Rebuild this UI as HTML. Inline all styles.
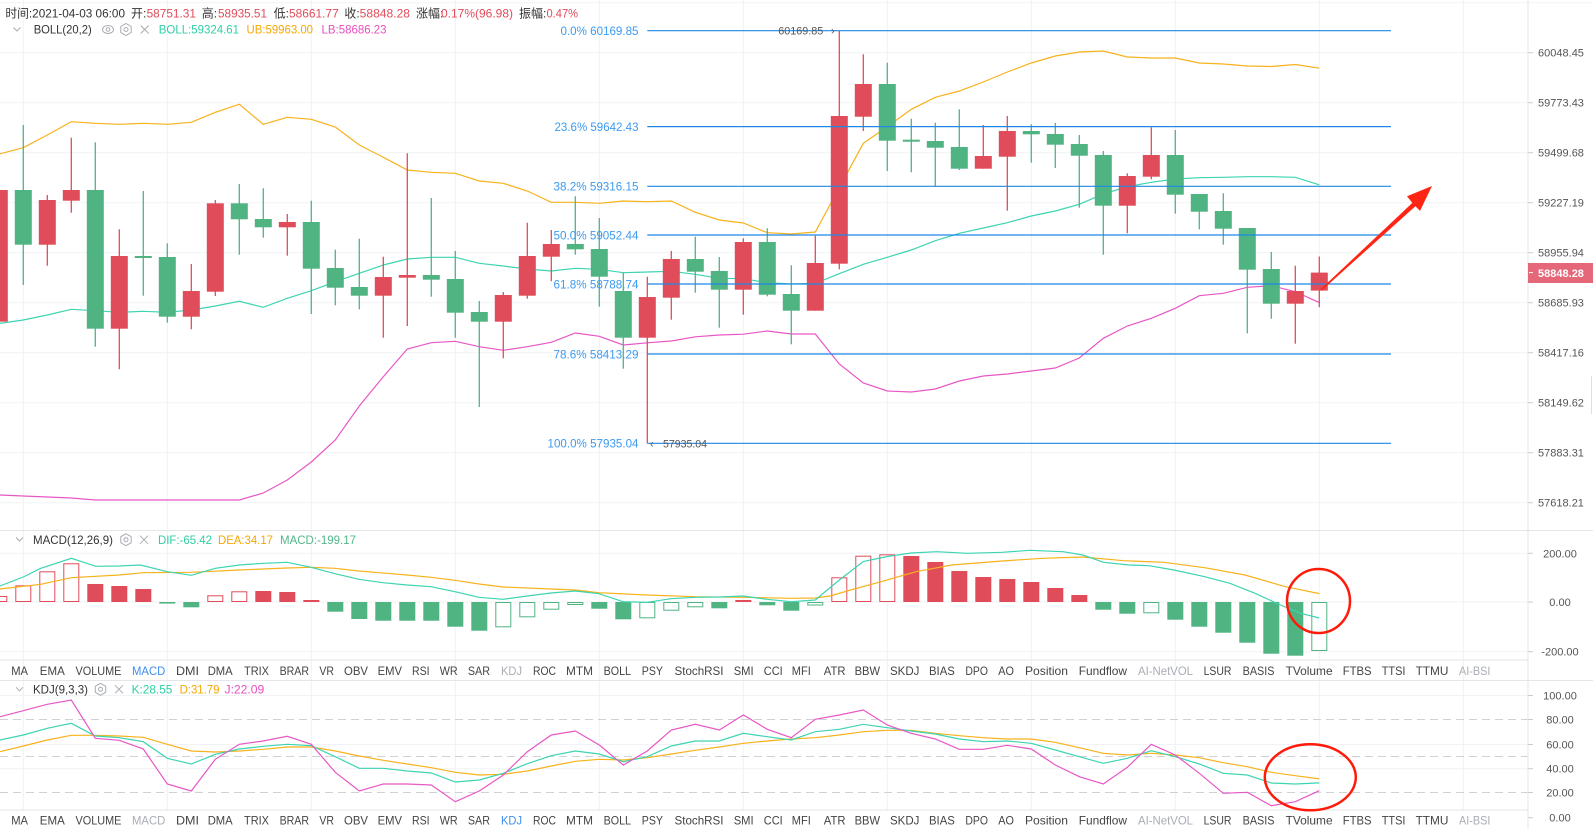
<!DOCTYPE html>
<html><head><meta charset="utf-8"><style>
html,body{margin:0;padding:0;background:#fff;}
svg{display:block;font-family:"Liberation Sans","Noto Sans CJK SC",sans-serif;}
.r{fill:#e04c5a}.g{fill:#50b482}
.wr{stroke:#e04c5a;stroke-width:1.3}.wg{stroke:#50b482;stroke-width:1.3}
.hr{fill:#fff;stroke:#e04c5a;stroke-width:1}.hg{fill:#fff;stroke:#50b482;stroke-width:1}
.grid{stroke:#f0f2f5;stroke-width:1}
.sep{stroke:#e4e6ea;stroke-width:1}
.ax{font-size:11px;fill:#555;text-anchor:middle}
.fib{stroke:#1e88e5;stroke-width:1.2}
.fl{font-size:12px;fill:#3d9af0;text-anchor:end}
.mn{font-size:12px;fill:#444}
.act{fill:#3d8ef0}.dis{fill:#a9adb5}
.lg{font-size:12px}
.ic{fill:none;stroke:#a8acb3;stroke-width:1}
</style></head><body>
<svg width="1593" height="828" viewBox="0 0 1593 828" xmlns="http://www.w3.org/2000/svg">
<defs>
<clipPath id="cm"><rect x="0" y="0" width="1528" height="530"/></clipPath>
<clipPath id="cd"><rect x="0" y="531" width="1528" height="129"/></clipPath>
<clipPath id="ck"><rect x="0" y="681" width="1528" height="129"/></clipPath>
</defs>
<rect width="1593" height="828" fill="#fff"/>

<!-- vertical grid -->
<g class="grid">
<line x1="23.3" y1="0" x2="23.3" y2="810"/><line x1="167.3" y1="0" x2="167.3" y2="810"/><line x1="311.3" y1="0" x2="311.3" y2="810"/><line x1="455.3" y1="0" x2="455.3" y2="810"/><line x1="599.3" y1="0" x2="599.3" y2="810"/><line x1="743.3" y1="0" x2="743.3" y2="810"/><line x1="887.3" y1="0" x2="887.3" y2="810"/><line x1="1031.3" y1="0" x2="1031.3" y2="810"/><line x1="1175.3" y1="0" x2="1175.3" y2="810"/><line x1="1319.3" y1="0" x2="1319.3" y2="810"/><line x1="1463.3" y1="0" x2="1463.3" y2="810"/>
<!-- main horizontal -->
<line x1="0" y1="2.7" x2="1593" y2="2.7"/>
<line x1="0" y1="52.7" x2="1528" y2="52.7"/><line x1="0" y1="102.7" x2="1528" y2="102.7"/><line x1="0" y1="152.7" x2="1528" y2="152.7"/><line x1="0" y1="202.7" x2="1528" y2="202.7"/><line x1="0" y1="252.7" x2="1528" y2="252.7"/><line x1="0" y1="302.7" x2="1528" y2="302.7"/><line x1="0" y1="352.7" x2="1528" y2="352.7"/><line x1="0" y1="402.7" x2="1528" y2="402.7"/><line x1="0" y1="452.7" x2="1528" y2="452.7"/><line x1="0" y1="502.7" x2="1528" y2="502.7"/>
<!-- macd horizontal -->
<line x1="0" y1="553.3" x2="1528" y2="553.3"/><line x1="0" y1="602" x2="1528" y2="602"/><line x1="0" y1="651.7" x2="1528" y2="651.7"/>
<!-- kdj horizontal solid -->
<line x1="0" y1="695.5" x2="1528" y2="695.5"/><line x1="0" y1="744.5" x2="1528" y2="744.5"/><line x1="0" y1="768.7" x2="1528" y2="768.7"/>
</g>
<g stroke="#cfd1d5" stroke-width="1" stroke-dasharray="8,5">
<line x1="0" y1="719.5" x2="1528" y2="719.5"/><line x1="0" y1="756.5" x2="1528" y2="756.5"/><line x1="0" y1="792.5" x2="1528" y2="792.5"/>
</g>

<!-- separators -->
<g class="sep">
<line x1="0" y1="530.5" x2="1593" y2="530.5"/>
<line x1="0" y1="660" x2="1528" y2="660"/>
<line x1="0" y1="680.5" x2="1593" y2="680.5"/>
<line x1="0" y1="810" x2="1528" y2="810"/>
<line x1="1528" y1="0" x2="1528" y2="828"/>
</g>

<!-- ===== MAIN CHART ===== -->
<g clip-path="url(#cm)">
<!-- Bollinger -->
<polyline fill="none" stroke="#f7b21c" stroke-width="1.2" points="-0.7,154 23.3,147.7 47.3,135 71.3,121.7 95.3,123.3 119.3,124.3 143.3,123.3 167.3,124.3 191.3,122.3 215.3,112.3 239.3,104.3 263.3,124.3 287.3,117.3 311.3,119.3 335.3,127 359.3,145 383.3,157.3 407.3,170 431.3,172.3 455.3,173.3 479.3,181 503.3,183.3 527.3,191 551.3,202.3 575.3,202.3 599.3,203.3 623.3,201 647.3,201.7 671.3,201 695.3,212.3 719.3,220 743.3,223 767.3,232.7 791.3,234 815.3,232 839.3,187.7 863.3,143.3 887.3,126.7 911.3,109.3 935.3,97.3 959.3,91 983.3,82 1007.3,72 1031.3,63 1055.3,56 1079.3,52 1103.3,51 1127.3,57 1151.3,58 1175.3,58 1199.3,63 1223.3,64 1247.3,66 1271.3,66.5 1295.3,64.5 1319.3,68.2"/>
<polyline fill="none" stroke="#3dd4b2" stroke-width="1.2" points="-0.7,323.5 23.3,320 47.3,315 71.3,309.3 95.3,310.7 119.3,312.3 143.3,311.3 167.3,312.3 191.3,310 215.3,306 239.3,301.3 263.3,307.3 287.3,298.3 311.3,290.7 335.3,281.7 359.3,273.3 383.3,265 407.3,259 431.3,257.3 455.3,257.3 479.3,263.3 503.3,266 527.3,269 551.3,271 575.3,268.3 599.3,269.3 623.3,272.7 647.3,272 671.3,271.3 695.3,274.3 719.3,278.3 743.3,278.7 767.3,282.7 791.3,284 815.3,283.3 839.3,273.7 863.3,264.3 887.3,257.3 911.3,250 935.3,240.7 959.3,233.3 983.3,228 1007.3,222.7 1031.3,216 1055.3,211 1079.3,204.3 1103.3,194 1127.3,186.7 1151.3,182.3 1175.3,179 1199.3,177.7 1223.3,177.3 1247.3,176.7 1271.3,176.7 1295.3,177.3 1319.3,184.8"/>
<polyline fill="none" stroke="#e857c6" stroke-width="1.2" points="-0.7,495 23.3,496 47.3,497 71.3,498 95.3,500 119.3,500 143.3,500 167.3,500 191.3,500 215.3,500 239.3,500 263.3,493 287.3,480 311.3,462 335.3,440 359.3,406 383.3,376.7 407.3,349 431.3,342.7 455.3,341.3 479.3,346.7 503.3,350.3 527.3,346.7 551.3,342.3 575.3,333 599.3,336.3 623.3,345 647.3,342.8 671.3,341 695.3,336.8 719.3,335 743.3,334.2 767.3,331 791.3,334 815.3,334 839.3,364 863.3,383 887.3,391 911.3,392 935.3,389 959.3,381 983.3,376 1007.3,374 1031.3,371 1055.3,368 1079.3,358 1103.3,338.3 1127.3,326 1151.3,318.3 1175.3,308.3 1199.3,295.7 1223.3,293.3 1247.3,287.3 1271.3,285.7 1295.3,291.7 1319.3,302.6"/>

<!-- wicks -->
<g class="wg">
<line x1="23.3" y1="125" x2="23.3" y2="285"/><line x1="95.3" y1="142.3" x2="95.3" y2="346.7"/><line x1="143.3" y1="191" x2="143.3" y2="295.7"/><line x1="167.3" y1="243.3" x2="167.3" y2="322.7"/><line x1="239.3" y1="184" x2="239.3" y2="254.7"/><line x1="263.3" y1="188.3" x2="263.3" y2="237.7"/><line x1="311.3" y1="200.7" x2="311.3" y2="314"/><line x1="335.3" y1="249.7" x2="335.3" y2="305.3"/><line x1="359.3" y1="238.7" x2="359.3" y2="309.3"/><line x1="431.3" y1="198" x2="431.3" y2="296.7"/><line x1="455.3" y1="251" x2="455.3" y2="337.7"/><line x1="479.3" y1="301" x2="479.3" y2="407"/><line x1="575.3" y1="196.3" x2="575.3" y2="254.7"/><line x1="599.3" y1="218" x2="599.3" y2="306.7"/><line x1="623.3" y1="272.7" x2="623.3" y2="368.7"/><line x1="695.3" y1="236.7" x2="695.3" y2="292.7"/><line x1="719.3" y1="257" x2="719.3" y2="327.7"/><line x1="767.3" y1="228.3" x2="767.3" y2="296.3"/><line x1="791.3" y1="265.3" x2="791.3" y2="344.3"/><line x1="887.3" y1="62.7" x2="887.3" y2="171"/><line x1="911.3" y1="118.7" x2="911.3" y2="172.3"/><line x1="935.3" y1="122.7" x2="935.3" y2="186.7"/><line x1="959.3" y1="109.3" x2="959.3" y2="170"/><line x1="1031.3" y1="124.3" x2="1031.3" y2="162.7"/><line x1="1055.3" y1="123" x2="1055.3" y2="168"/><line x1="1079.3" y1="135" x2="1079.3" y2="207.7"/><line x1="1103.3" y1="151" x2="1103.3" y2="254.7"/><line x1="1175.3" y1="130" x2="1175.3" y2="213.7"/><line x1="1199.3" y1="194" x2="1199.3" y2="229.3"/><line x1="1223.3" y1="193.3" x2="1223.3" y2="244.7"/><line x1="1247.3" y1="228" x2="1247.3" y2="333.3"/><line x1="1271.3" y1="252" x2="1271.3" y2="318.7"/>
</g>
<g class="wr">
<line x1="47.3" y1="195" x2="47.3" y2="265.7"/><line x1="71.3" y1="137.7" x2="71.3" y2="212.7"/><line x1="119.3" y1="229.3" x2="119.3" y2="369.3"/><line x1="191.3" y1="264" x2="191.3" y2="329.3"/><line x1="215.3" y1="200" x2="215.3" y2="296"/><line x1="287.3" y1="214" x2="287.3" y2="255.7"/><line x1="383.3" y1="256.7" x2="383.3" y2="337.7"/><line x1="407.3" y1="153.3" x2="407.3" y2="326"/><line x1="503.3" y1="292" x2="503.3" y2="358.3"/><line x1="527.3" y1="222.7" x2="527.3" y2="298.7"/><line x1="551.3" y1="230" x2="551.3" y2="281.3"/><line x1="647.3" y1="276.7" x2="647.3" y2="443.3"/><line x1="671.3" y1="251" x2="671.3" y2="319.7"/><line x1="743.3" y1="238.3" x2="743.3" y2="314.7"/><line x1="815.3" y1="235.7" x2="815.3" y2="310.7"/><line x1="839.3" y1="31" x2="839.3" y2="269.3"/><line x1="863.3" y1="54.3" x2="863.3" y2="131"/><line x1="983.3" y1="125" x2="983.3" y2="168.7"/><line x1="1007.3" y1="116" x2="1007.3" y2="210.7"/><line x1="1127.3" y1="173.3" x2="1127.3" y2="233.3"/><line x1="1151.3" y1="127.3" x2="1151.3" y2="179.3"/><line x1="1295.3" y1="265.7" x2="1295.3" y2="343.7"/><line x1="1319.3" y1="256.5" x2="1319.3" y2="307.2"/>
</g>
<!-- bodies -->
<g class="g">
<rect x="14.8" y="190" width="17" height="54.7"/><rect x="86.8" y="190" width="17" height="138.7"/><rect x="134.8" y="256" width="17" height="2"/><rect x="158.8" y="257" width="17" height="59.7"/><rect x="230.8" y="203.3" width="17" height="16"/><rect x="254.8" y="219" width="17" height="8.3"/><rect x="302.8" y="222" width="17" height="46.7"/><rect x="326.8" y="268" width="17" height="19.7"/><rect x="350.8" y="287" width="17" height="8.7"/><rect x="422.8" y="275" width="17" height="4.7"/><rect x="446.8" y="279" width="17" height="33.7"/><rect x="470.8" y="312" width="17" height="9.7"/><rect x="566.8" y="244" width="17" height="5.3"/><rect x="590.8" y="249" width="17" height="27.7"/><rect x="614.8" y="291" width="17" height="46.7"/><rect x="686.8" y="259" width="17" height="12.7"/><rect x="710.8" y="271" width="17" height="18.7"/><rect x="758.8" y="242" width="17" height="52.7"/><rect x="782.8" y="294" width="17" height="16.7"/><rect x="878.8" y="84" width="17" height="56.7"/><rect x="902.8" y="139.7" width="17" height="2"/><rect x="926.8" y="141" width="17" height="6.7"/><rect x="950.8" y="147" width="17" height="21.7"/><rect x="1022.8" y="131" width="17" height="3.3"/><rect x="1046.8" y="134" width="17" height="10.7"/><rect x="1070.8" y="144" width="17" height="11.7"/><rect x="1094.8" y="155" width="17" height="50.7"/><rect x="1166.8" y="155" width="17" height="39.7"/><rect x="1190.8" y="194" width="17" height="17.7"/><rect x="1214.8" y="211" width="17" height="17.7"/><rect x="1238.8" y="228" width="17" height="41.7"/><rect x="1262.8" y="269" width="17" height="34.7"/>
</g>
<g class="r">
<rect x="-9.2" y="190" width="17" height="131.7"/><rect x="38.8" y="200" width="17" height="44.7"/><rect x="62.8" y="190" width="17" height="10.7"/><rect x="110.8" y="256" width="17" height="72.7"/><rect x="182.8" y="291" width="17" height="25.7"/><rect x="206.8" y="203.3" width="17" height="88.4"/><rect x="278.8" y="222" width="17" height="5.3"/><rect x="374.8" y="277" width="17" height="18.7"/><rect x="398.8" y="275" width="17" height="2.7"/><rect x="494.8" y="295" width="17" height="26.7"/><rect x="518.8" y="256" width="17" height="39.7"/><rect x="542.8" y="244" width="17" height="12.7"/><rect x="638.8" y="297" width="17" height="40.7"/><rect x="662.8" y="259" width="17" height="38.7"/><rect x="734.8" y="242" width="17" height="47.7"/><rect x="806.8" y="263" width="17" height="47.7"/><rect x="830.8" y="116" width="17" height="147.7"/><rect x="854.8" y="84" width="17" height="32.7"/><rect x="974.8" y="156" width="17" height="12.7"/><rect x="998.8" y="131" width="17" height="25.7"/><rect x="1118.8" y="176" width="17" height="29.7"/><rect x="1142.8" y="155" width="17" height="21.7"/><rect x="1286.8" y="291" width="17" height="12.7"/><rect x="1310.8" y="272.6" width="17" height="18"/>
</g>

<!-- Fibonacci -->
<g class="fib">
<line x1="647.3" y1="30.7" x2="1391" y2="30.7"/>
<line x1="647.3" y1="126.6" x2="1391" y2="126.6"/>
<line x1="647.3" y1="186.3" x2="1391" y2="186.3"/>
<line x1="647.3" y1="235" x2="1391" y2="235"/>
<line x1="647.3" y1="284" x2="1391" y2="284"/>
<line x1="647.3" y1="354" x2="1391" y2="354"/>
<line x1="647.3" y1="443.3" x2="1391" y2="443.3"/>
</g>
<g class="fl">
<text x="638.5" y="35" textLength="78" lengthAdjust="spacingAndGlyphs">0.0% 60169.85</text>
<text x="638.5" y="130.9" textLength="84" lengthAdjust="spacingAndGlyphs">23.6% 59642.43</text>
<text x="638.5" y="190.6" textLength="85" lengthAdjust="spacingAndGlyphs">38.2% 59316.15</text>
<text x="638.5" y="239.3" textLength="85" lengthAdjust="spacingAndGlyphs">50.0% 59052.44</text>
<text x="638.5" y="288.3" textLength="85" lengthAdjust="spacingAndGlyphs">61.8% 58788.74</text>
<text x="638.5" y="358.3" textLength="85" lengthAdjust="spacingAndGlyphs">78.6% 58413.29</text>
<text x="638.5" y="447.6" textLength="91" lengthAdjust="spacingAndGlyphs">100.0% 57935.04</text>
</g>
<text x="778.3" y="34.5" font-size="11" fill="#555" textLength="45" lengthAdjust="spacingAndGlyphs">60169.85</text>
<text x="831" y="34.5" font-size="11" fill="#555">›</text>
<text x="650" y="447.5" font-size="11" fill="#555">‹</text>
<text x="663" y="447.5" font-size="11" fill="#555" textLength="44" lengthAdjust="spacingAndGlyphs">57935.04</text>

<!-- red arrow -->
<polygon fill="#ff2414" points="1321.5,290.6 1415.4,206.2 1420.0,210.9 1432,186 1407.0,196.3 1412.3,202.9 1320.5,289.4"/>
</g>

<!-- header -->
<g class="lg">
<text x="5.4" y="17.6" fill="#333" textLength="119.6" lengthAdjust="spacingAndGlyphs">时间:2021-04-03 06:00</text>
<text x="131" y="17.6" fill="#333">开:</text><text x="146.6" y="17.6" fill="#e04c5a" textLength="49.4" lengthAdjust="spacingAndGlyphs">58751.31</text>
<text x="201.7" y="17.6" fill="#333">高:</text><text x="218" y="17.6" fill="#e04c5a" textLength="49" lengthAdjust="spacingAndGlyphs">58935.51</text>
<text x="273.6" y="17.6" fill="#333">低:</text><text x="289" y="17.6" fill="#e04c5a" textLength="49.7" lengthAdjust="spacingAndGlyphs">58661.77</text>
<text x="344.4" y="17.6" fill="#333">收:</text><text x="359.7" y="17.6" fill="#e04c5a" textLength="50.3" lengthAdjust="spacingAndGlyphs">58848.28</text>
<text x="416" y="17.6" fill="#333">涨幅:</text><text x="441" y="17.6" fill="#e04c5a" textLength="72" lengthAdjust="spacingAndGlyphs">0.17%(96.98)</text>
<text x="519" y="17.6" fill="#333">振幅:</text><text x="546.5" y="17.6" fill="#e04c5a" textLength="31.5" lengthAdjust="spacingAndGlyphs">0.47%</text>

<!-- BOLL legend -->
<polyline class="ic" points="13.5,27.5 17,31 20.5,27.5"/>
<text x="33.7" y="33.6" fill="#333" textLength="58.1" lengthAdjust="spacingAndGlyphs">BOLL(20,2)</text>
<ellipse class="ic" cx="108" cy="29.5" rx="5.5" ry="4"/><circle class="ic" cx="108" cy="29.5" r="1.8"/>
<polygon class="ic" points="126,23.5 131.2,26.5 131.2,32.5 126,35.5 120.8,32.5 120.8,26.5"/><circle class="ic" cx="126" cy="29.5" r="2"/>
<path class="ic" d="M140.7,25.5 L148.7,33.5 M148.7,25.5 L140.7,33.5"/>
<text x="158.8" y="33.6" fill="#2fcfa5" textLength="80.2" lengthAdjust="spacingAndGlyphs">BOLL:59324.61</text>
<text x="246.5" y="33.6" fill="#f5a800" textLength="66.5" lengthAdjust="spacingAndGlyphs">UB:59963.00</text>
<text x="321.5" y="33.6" fill="#e94fbf" textLength="65" lengthAdjust="spacingAndGlyphs">LB:58686.23</text>
</g>

<!-- main axis labels -->
<g class="ax">
<text x="1561" y="56.7">60048.45</text><text x="1561" y="106.7">59773.43</text><text x="1561" y="156.7">59499.68</text><text x="1561" y="206.7">59227.19</text><text x="1561" y="256.7">58955.94</text><text x="1561" y="306.7">58685.93</text><text x="1561" y="356.7">58417.16</text><text x="1561" y="406.7">58149.62</text><text x="1561" y="456.7">57883.31</text><text x="1561" y="506.7">57618.21</text>
</g>
<g stroke="#c8cbd0" stroke-width="1">
<line x1="1528" y1="52.7" x2="1533" y2="52.7"/><line x1="1528" y1="102.7" x2="1533" y2="102.7"/><line x1="1528" y1="152.7" x2="1533" y2="152.7"/><line x1="1528" y1="202.7" x2="1533" y2="202.7"/><line x1="1528" y1="252.7" x2="1533" y2="252.7"/><line x1="1528" y1="302.7" x2="1533" y2="302.7"/><line x1="1528" y1="352.7" x2="1533" y2="352.7"/><line x1="1528" y1="402.7" x2="1533" y2="402.7"/><line x1="1528" y1="452.7" x2="1533" y2="452.7"/><line x1="1528" y1="502.7" x2="1533" y2="502.7"/>
<line x1="1528" y1="553.3" x2="1533" y2="553.3"/><line x1="1528" y1="602" x2="1533" y2="602"/><line x1="1528" y1="651.7" x2="1533" y2="651.7"/>
<line x1="1528" y1="695.5" x2="1533" y2="695.5"/><line x1="1528" y1="719.5" x2="1533" y2="719.5"/><line x1="1528" y1="744.5" x2="1533" y2="744.5"/><line x1="1528" y1="768.7" x2="1533" y2="768.7"/><line x1="1528" y1="792.5" x2="1533" y2="792.5"/><line x1="1528" y1="817.7" x2="1533" y2="817.7"/>
</g>
<line x1="1591.5" y1="376" x2="1591.5" y2="414" stroke="#dcdfe3" stroke-width="1"/>
<!-- current price -->
<rect x="1528" y="263" width="65" height="20" fill="#e5677a"/>
<line x1="1529" y1="272.6" x2="1533" y2="272.6" stroke="#fff" stroke-width="1"/>
<text x="1561" y="276.8" font-size="11" fill="#fff" text-anchor="middle" font-weight="bold">58848.28</text>

<!-- ===== MACD ===== -->
<g class="lg">
<polyline class="ic" points="16,537.5 19.5,541 23,537.5"/>
<text x="33" y="544" fill="#333" textLength="80" lengthAdjust="spacingAndGlyphs">MACD(12,26,9)</text>
<polygon class="ic" points="126,533.7 131.2,536.7 131.2,542.7 126,545.7 120.8,542.7 120.8,536.7"/><circle class="ic" cx="126" cy="539.7" r="2"/>
<path class="ic" d="M140,535.7 L148,543.7 M148,535.7 L140,543.7"/>
<text x="158" y="544" fill="#2fcfa5" textLength="54" lengthAdjust="spacingAndGlyphs">DIF:-65.42</text>
<text x="218" y="544" fill="#f5a800" textLength="55" lengthAdjust="spacingAndGlyphs">DEA:34.17</text>
<text x="280" y="544" fill="#52b788" textLength="76" lengthAdjust="spacingAndGlyphs">MACD:-199.17</text>
</g>
<g clip-path="url(#cd)">
<g class="hr">
<rect x="-8.2" y="596.5" width="15" height="5"/><rect x="15.8" y="585.8" width="15" height="15.7"/><rect x="39.8" y="571.8" width="15" height="29.7"/><rect x="63.8" y="563.8" width="15" height="37.7"/><rect x="207.8" y="595.8" width="15" height="5.7"/><rect x="231.8" y="591.8" width="15" height="9.7"/><rect x="831.8" y="577.8" width="15" height="23.7"/><rect x="855.8" y="556.2" width="15" height="45.3"/><rect x="879.8" y="554.8" width="15" height="46.7"/>
</g>
<g class="r">
<rect x="87.3" y="584" width="16" height="18"/><rect x="111.3" y="586" width="16" height="16"/><rect x="135.3" y="589" width="16" height="13"/><rect x="255.3" y="591" width="16" height="11"/><rect x="279.3" y="592" width="16" height="10"/><rect x="303.3" y="600" width="16" height="2"/><rect x="735.3" y="600" width="16" height="2"/><rect x="903.3" y="556" width="16" height="46"/><rect x="927.3" y="562" width="16" height="40"/><rect x="951.3" y="571" width="16" height="31"/><rect x="975.3" y="577" width="16" height="25"/><rect x="999.3" y="579" width="16" height="23"/><rect x="1023.3" y="582" width="16" height="20"/><rect x="1047.3" y="588" width="16" height="14"/><rect x="1071.3" y="595" width="16" height="7"/>
</g>
<g class="g">
<rect x="159.3" y="602" width="16" height="1.6"/><rect x="183.3" y="602" width="16" height="5.3"/><rect x="327.3" y="602" width="16" height="9.7"/><rect x="351.3" y="602" width="16" height="17"/><rect x="375.3" y="602" width="16" height="18.7"/><rect x="399.3" y="602" width="16" height="18.7"/><rect x="423.3" y="602" width="16" height="18.7"/><rect x="447.3" y="602" width="16" height="24.7"/><rect x="471.3" y="602" width="16" height="28.7"/><rect x="591.3" y="602" width="16" height="6.7"/><rect x="615.3" y="602" width="16" height="17.3"/><rect x="711.3" y="602" width="16" height="6.3"/><rect x="759.3" y="602" width="16" height="3.3"/><rect x="783.3" y="602" width="16" height="8.7"/><rect x="1095.3" y="602" width="16" height="7.7"/><rect x="1119.3" y="602" width="16" height="11.7"/><rect x="1167.3" y="602" width="16" height="17.7"/><rect x="1191.3" y="602" width="16" height="24.7"/><rect x="1215.3" y="602" width="16" height="30.7"/><rect x="1239.3" y="602" width="16" height="40.7"/><rect x="1263.3" y="602" width="16" height="51.7"/><rect x="1287.3" y="602" width="16" height="53.7"/>
</g>
<g class="hg">
<rect x="495.8" y="602.5" width="15" height="24.3"/><rect x="519.8" y="602.5" width="15" height="14.3"/><rect x="543.8" y="602.5" width="15" height="6.7"/><rect x="567.8" y="602.5" width="15" height="2"/><rect x="639.8" y="602.5" width="15" height="15.3"/><rect x="663.8" y="602.5" width="15" height="7.7"/><rect x="687.8" y="602.5" width="15" height="4.3"/><rect x="807.8" y="602.5" width="15" height="2.5"/><rect x="1143.8" y="602.5" width="15" height="10.3"/><rect x="1311.8" y="602.5" width="15" height="48"/>
</g>
<polyline fill="none" stroke="#f7b21c" stroke-width="1.2" points="0,589 40.8,584.3 71.4,577.7 119,575 143,572.7 191,572.3 239,570 287,568 311,567.3 335,568.3 359,571 407,575 431,577.3 455,580.3 479,584 503,587 551,589 575,590 599,592.7 647,595 695,596.7 743,597.3 791,598.3 815,598 830,596 850.6,590 881,581.7 916,571.7 951.7,565 1002,561 1042.8,558.3 1083,557 1123.7,560.7 1164,562.3 1204.7,567.7 1245,575 1285.6,586.7 1319.3,593.6"/>
<polyline fill="none" stroke="#3dd4b2" stroke-width="1.2" points="0,586 23.3,577 40.8,568.3 71.4,558.3 95.9,566.3 119.3,566 140.3,565 167.3,571.7 191.3,575.3 215.3,568.3 239.3,565 263,563.3 287,562.3 311,567.3 335,573.7 359,579.3 383,582.7 407,585 431,586.7 455,591.7 479,597.3 503,599.3 527,596 551,593 575,591 599,593.7 623,601.7 647,602.3 671,598.7 695,597.3 719,597 743,596 767,599.3 791,601.7 815.3,600 839.3,580 863.3,561.5 887.3,556.5 911.3,553 936.6,551.7 967,553.3 1002,552.3 1030,550.3 1063,551.7 1083,555 1103.5,562.3 1129,565 1149,565.7 1174,570 1204.7,576.7 1230,583.3 1255,593.3 1280.5,605 1300.8,613.3 1319.3,618"/>
</g>
<g class="ax">
<text x="1560" y="557.3">200.00</text><text x="1560" y="606">0.00</text><text x="1560" y="655.7">-200.00</text>
</g>
<ellipse cx="1318.5" cy="601" rx="31.5" ry="32" fill="none" stroke="#ff1a0a" stroke-width="2.5"/>

<!-- menu rows -->
<g class="mn">
<text x="11.2" y="675" textLength="16.8" lengthAdjust="spacingAndGlyphs">MA</text><text x="39.8" y="675" textLength="25" lengthAdjust="spacingAndGlyphs">EMA</text><text x="75.5" y="675" textLength="45.9" lengthAdjust="spacingAndGlyphs">VOLUME</text><text x="132" y="675" textLength="33.3" lengthAdjust="spacingAndGlyphs" class="act">MACD</text><text x="176" y="675" textLength="23" lengthAdjust="spacingAndGlyphs">DMI</text><text x="207.7" y="675" textLength="25" lengthAdjust="spacingAndGlyphs">DMA</text><text x="244" y="675" textLength="25" lengthAdjust="spacingAndGlyphs">TRIX</text><text x="279.6" y="675" textLength="29.4" lengthAdjust="spacingAndGlyphs">BRAR</text><text x="319.4" y="675" textLength="14.6" lengthAdjust="spacingAndGlyphs">VR</text><text x="344" y="675" textLength="24" lengthAdjust="spacingAndGlyphs">OBV</text><text x="377.6" y="675" textLength="24.4" lengthAdjust="spacingAndGlyphs">EMV</text><text x="412" y="675" textLength="17.6" lengthAdjust="spacingAndGlyphs">RSI</text><text x="439.8" y="675" textLength="17.9" lengthAdjust="spacingAndGlyphs">WR</text><text x="467.9" y="675" textLength="22.1" lengthAdjust="spacingAndGlyphs">SAR</text><text x="501" y="675" textLength="21" lengthAdjust="spacingAndGlyphs" class="dis">KDJ</text><text x="533" y="675" textLength="23" lengthAdjust="spacingAndGlyphs">ROC</text><text x="566" y="675" textLength="27" lengthAdjust="spacingAndGlyphs">MTM</text><text x="603.6" y="675" textLength="27.4" lengthAdjust="spacingAndGlyphs">BOLL</text><text x="641.8" y="675" textLength="21.2" lengthAdjust="spacingAndGlyphs">PSY</text><text x="674.5" y="675" textLength="49" lengthAdjust="spacingAndGlyphs">StochRSI</text><text x="733.7" y="675" textLength="19.9" lengthAdjust="spacingAndGlyphs">SMI</text><text x="763.8" y="675" textLength="18.9" lengthAdjust="spacingAndGlyphs">CCI</text><text x="791.8" y="675" textLength="19" lengthAdjust="spacingAndGlyphs">MFI</text><text x="823.8" y="675" textLength="21.7" lengthAdjust="spacingAndGlyphs">ATR</text><text x="854.6" y="675" textLength="25.4" lengthAdjust="spacingAndGlyphs">BBW</text><text x="890" y="675" textLength="29.4" lengthAdjust="spacingAndGlyphs">SKDJ</text><text x="929" y="675" textLength="25.8" lengthAdjust="spacingAndGlyphs">BIAS</text><text x="965.4" y="675" textLength="22.6" lengthAdjust="spacingAndGlyphs">DPO</text><text x="998.3" y="675" textLength="15.7" lengthAdjust="spacingAndGlyphs">AO</text><text x="1025" y="675" textLength="43" lengthAdjust="spacingAndGlyphs">Position</text><text x="1078.7" y="675" textLength="48.3" lengthAdjust="spacingAndGlyphs">Fundflow</text><text x="1138" y="675" textLength="55" lengthAdjust="spacingAndGlyphs" class="dis">AI-NetVOL</text><text x="1203.6" y="675" textLength="27.9" lengthAdjust="spacingAndGlyphs">LSUR</text><text x="1242.6" y="675" textLength="31.9" lengthAdjust="spacingAndGlyphs">BASIS</text><text x="1285.6" y="675" textLength="47" lengthAdjust="spacingAndGlyphs">TVolume</text><text x="1342.7" y="675" textLength="28.9" lengthAdjust="spacingAndGlyphs">FTBS</text><text x="1381.7" y="675" textLength="23.8" lengthAdjust="spacingAndGlyphs">TTSI</text><text x="1415.6" y="675" textLength="32.8" lengthAdjust="spacingAndGlyphs">TTMU</text><text x="1459" y="675" textLength="31.4" lengthAdjust="spacingAndGlyphs" class="dis">AI-BSI</text>
</g>
<g class="mn">
<text x="11.2" y="824.6" textLength="16.8" lengthAdjust="spacingAndGlyphs">MA</text><text x="39.8" y="824.6" textLength="25" lengthAdjust="spacingAndGlyphs">EMA</text><text x="75.5" y="824.6" textLength="45.9" lengthAdjust="spacingAndGlyphs">VOLUME</text><text x="132" y="824.6" textLength="33.3" lengthAdjust="spacingAndGlyphs" class="dis">MACD</text><text x="176" y="824.6" textLength="23" lengthAdjust="spacingAndGlyphs">DMI</text><text x="207.7" y="824.6" textLength="25" lengthAdjust="spacingAndGlyphs">DMA</text><text x="244" y="824.6" textLength="25" lengthAdjust="spacingAndGlyphs">TRIX</text><text x="279.6" y="824.6" textLength="29.4" lengthAdjust="spacingAndGlyphs">BRAR</text><text x="319.4" y="824.6" textLength="14.6" lengthAdjust="spacingAndGlyphs">VR</text><text x="344" y="824.6" textLength="24" lengthAdjust="spacingAndGlyphs">OBV</text><text x="377.6" y="824.6" textLength="24.4" lengthAdjust="spacingAndGlyphs">EMV</text><text x="412" y="824.6" textLength="17.6" lengthAdjust="spacingAndGlyphs">RSI</text><text x="439.8" y="824.6" textLength="17.9" lengthAdjust="spacingAndGlyphs">WR</text><text x="467.9" y="824.6" textLength="22.1" lengthAdjust="spacingAndGlyphs">SAR</text><text x="501" y="824.6" textLength="21" lengthAdjust="spacingAndGlyphs" class="act">KDJ</text><text x="533" y="824.6" textLength="23" lengthAdjust="spacingAndGlyphs">ROC</text><text x="566" y="824.6" textLength="27" lengthAdjust="spacingAndGlyphs">MTM</text><text x="603.6" y="824.6" textLength="27.4" lengthAdjust="spacingAndGlyphs">BOLL</text><text x="641.8" y="824.6" textLength="21.2" lengthAdjust="spacingAndGlyphs">PSY</text><text x="674.5" y="824.6" textLength="49" lengthAdjust="spacingAndGlyphs">StochRSI</text><text x="733.7" y="824.6" textLength="19.9" lengthAdjust="spacingAndGlyphs">SMI</text><text x="763.8" y="824.6" textLength="18.9" lengthAdjust="spacingAndGlyphs">CCI</text><text x="791.8" y="824.6" textLength="19" lengthAdjust="spacingAndGlyphs">MFI</text><text x="823.8" y="824.6" textLength="21.7" lengthAdjust="spacingAndGlyphs">ATR</text><text x="854.6" y="824.6" textLength="25.4" lengthAdjust="spacingAndGlyphs">BBW</text><text x="890" y="824.6" textLength="29.4" lengthAdjust="spacingAndGlyphs">SKDJ</text><text x="929" y="824.6" textLength="25.8" lengthAdjust="spacingAndGlyphs">BIAS</text><text x="965.4" y="824.6" textLength="22.6" lengthAdjust="spacingAndGlyphs">DPO</text><text x="998.3" y="824.6" textLength="15.7" lengthAdjust="spacingAndGlyphs">AO</text><text x="1025" y="824.6" textLength="43" lengthAdjust="spacingAndGlyphs">Position</text><text x="1078.7" y="824.6" textLength="48.3" lengthAdjust="spacingAndGlyphs">Fundflow</text><text x="1138" y="824.6" textLength="55" lengthAdjust="spacingAndGlyphs" class="dis">AI-NetVOL</text><text x="1203.6" y="824.6" textLength="27.9" lengthAdjust="spacingAndGlyphs">LSUR</text><text x="1242.6" y="824.6" textLength="31.9" lengthAdjust="spacingAndGlyphs">BASIS</text><text x="1285.6" y="824.6" textLength="47" lengthAdjust="spacingAndGlyphs">TVolume</text><text x="1342.7" y="824.6" textLength="28.9" lengthAdjust="spacingAndGlyphs">FTBS</text><text x="1381.7" y="824.6" textLength="23.8" lengthAdjust="spacingAndGlyphs">TTSI</text><text x="1415.6" y="824.6" textLength="32.8" lengthAdjust="spacingAndGlyphs">TTMU</text><text x="1459" y="824.6" textLength="31.4" lengthAdjust="spacingAndGlyphs" class="dis">AI-BSI</text>
</g>

<!-- ===== KDJ ===== -->
<g class="lg">
<polyline class="ic" points="16,687.3 19.5,690.8 23,687.3"/>
<text x="33" y="693.6" fill="#333" textLength="55" lengthAdjust="spacingAndGlyphs">KDJ(9,3,3)</text>
<polygon class="ic" points="100.5,683.3 105.7,686.3 105.7,692.3 100.5,695.3 95.3,692.3 95.3,686.3"/><circle class="ic" cx="100.5" cy="689.3" r="2"/>
<path class="ic" d="M115,685.3 L123,693.3 M123,685.3 L115,693.3"/>
<text x="131.6" y="693.6" fill="#2fcfa5" textLength="40.8" lengthAdjust="spacingAndGlyphs">K:28.55</text>
<text x="179.6" y="693.6" fill="#f5a800" textLength="39.8" lengthAdjust="spacingAndGlyphs">D:31.79</text>
<text x="224.5" y="693.6" fill="#e94fbf" textLength="39.8" lengthAdjust="spacingAndGlyphs">J:22.09</text>
</g>
<g clip-path="url(#ck)" fill="none" stroke-width="1.2">
<polyline stroke="#f7b21c" points="0,751.7 23.3,746 47.3,740 71.3,735.3 95.3,735.3 119.3,736 143.3,737.3 167.3,744.3 191.3,751 215.3,752 239.3,751 263.3,749.3 287.3,747 311.3,747 335.3,751 359.3,756 383.3,760.3 407.3,764 431.3,767.7 455.3,772.3 479.3,775 503.3,774.3 527.3,771 551.3,766 575.3,761.3 599.3,759.3 623.3,760 647.3,757.7 671.3,754 695.3,750.3 719.3,747 743.3,743.3 767.3,741 791.3,739 815.3,737.7 839.3,735 863.3,731.7 887.3,730.3 911.3,730.3 935.3,733.3 959.3,735.7 983.3,737.7 1007.3,739 1031.3,739 1055.3,742.3 1079.3,747.7 1103.3,753.3 1127.3,755 1151.3,753.3 1175.3,755 1199.3,757.7 1223.3,762.7 1247.3,766.7 1271.3,772.3 1295.3,775.7 1319.3,778.9"/>
<polyline stroke="#3dd4b2" points="0,740 23.3,735 47.3,728.3 71.3,723.3 95.3,736 119.3,737.7 143.3,741.7 167.3,758.3 191.3,764 215.3,754.3 239.3,749 263.3,746.3 287.3,744.3 311.3,745.7 335.3,756.7 359.3,768.3 383.3,768.3 407.3,771 431.3,773 455.3,782 479.3,780 503.3,773.3 527.3,763.7 551.3,755.7 575.3,751 599.3,754 623.3,761.7 647.3,756.7 671.3,746 695.3,741 719.3,741 743.3,733.3 767.3,736.7 791.3,740 815.3,731.7 839.3,729.3 863.3,724.3 887.3,727.7 911.3,731 935.3,734 959.3,739 983.3,741.7 1007.3,741 1031.3,743.3 1055.3,750 1079.3,756.7 1103.3,763.3 1127.3,758.3 1151.3,750.7 1175.3,756.7 1199.3,764 1223.3,773.3 1247.3,775 1271.3,783 1295.3,784 1319.3,782.9"/>
<polyline stroke="#e857c6" points="0,716.7 23.3,710.7 47.3,704.3 71.3,700 95.3,738.3 119.3,740.3 143.3,749 167.3,784 191.3,791 215.3,759.3 239.3,744.3 263.3,741 287.3,736.3 311.3,744.3 335.3,772.3 359.3,791 383.3,784 407.3,784 431.3,785 455.3,801.7 479.3,791 503.3,775 527.3,751.7 551.3,735 575.3,731 599.3,745 623.3,765 647.3,751 671.3,730 695.3,724.3 719.3,730 743.3,715 767.3,729.3 791.3,737.7 815.3,719.3 839.3,715 863.3,710 887.3,725 911.3,733.3 935.3,739 959.3,749.3 983.3,749.3 1007.3,745.3 1031.3,749 1055.3,765 1079.3,776.7 1103.3,784 1127.3,767.3 1151.3,744.3 1175.3,755 1199.3,773.3 1223.3,793.3 1247.3,792.3 1271.3,805.7 1295.3,801.7 1319.3,790.7"/>
</g>
<g class="ax">
<text x="1560" y="699.5">100.00</text><text x="1560" y="723.5">80.00</text><text x="1560" y="748.5">60.00</text><text x="1560" y="772.7">40.00</text><text x="1560" y="796.5">20.00</text><text x="1560" y="821.7">0.00</text>
</g>
<ellipse cx="1310.3" cy="777.3" rx="45.5" ry="33" fill="none" stroke="#ff1a0a" stroke-width="2.5"/>
</svg>
</body></html>
